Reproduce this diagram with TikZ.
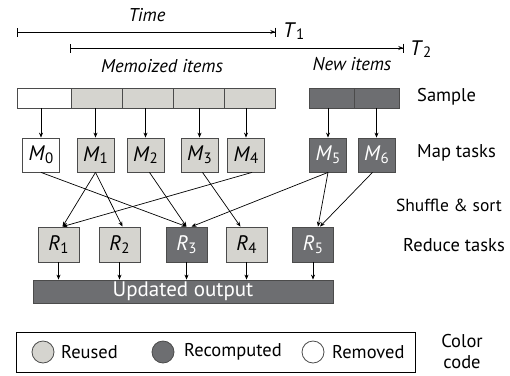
\documentclass[tikz,border=0pt]{standalone}
\usepackage{fontspec}
\setmainfont{PT Sans}
\usetikzlibrary{arrows.meta}
\definecolor{reused}{RGB}{213,212,207}
\definecolor{recomp}{RGB}{109,110,113}
\definecolor{edge}{RGB}{75,75,75}
% task label: italic letter with a lowered index
\newcommand{\tasklab}[2]{{\fontsize{21}{23}\selectfont\textit{#1}\raisebox{-0.25ex}{\fontsize{15}{15}\selectfont #2}}}
\begin{document}
\begin{tikzpicture}[x=1pt, y=-1pt, font=\fontsize{18.5}{21}\selectfont,
    box/.style={draw=edge, line width=0.8pt, inner sep=0pt},
    light/.style={box, fill=reused},
    dark/.style={box, fill=recomp, text=white},
    blank/.style={box, fill=white},
    cell/.style={minimum height=20pt},
    task/.style={minimum width=37pt, minimum height=34pt},
    red/.style={minimum width=41pt, minimum height=35pt},
    flow/.style={-{Stealth[length=5pt,width=4pt]}, line width=0.7pt, black},
    lbl/.style={inner sep=0pt},
    key/.style={circle, draw=edge, line width=0.8pt, minimum size=22pt, inner sep=0pt}]

    \useasboundingbox (0,0) rectangle (510,375);

    % Time axes at the top
    \node[lbl] (time) at (147,15) {\itshape Time};
    \coordinate (t1a) at (17,32);
    \coordinate (t1b) at (276,32);
    \coordinate (t2a) at (70,48);
    \coordinate (t2b) at (404,48);
    \draw[line width=0.7pt, {Bar[width=9pt]}-{Stealth[length=5pt,width=4pt]Bar[width=9pt]}] (t1a) -- (t1b);
    \draw[line width=0.7pt, {Bar[width=9pt]}-{Stealth[length=5pt,width=4pt]Bar[width=9pt]}] (t2a) -- (t2b);
    \node[lbl, anchor=west] (T1) at (283,31) {\tasklab{T}{1}};
    \node[lbl, anchor=west] (T2) at (410,49) {\tasklab{T}{2}};
    \node[lbl] (memo) at (162,66) {\itshape Memoized items};
    \node[lbl] (new) at (352,64) {\itshape New items};

    % Sample bar
    \node[blank, cell, minimum width=54pt] (s0) at (44,98) {};
    \node[light, cell, minimum width=51pt] (s1) at (96.5,98) {};
    \node[light, cell, minimum width=51pt] (s2) at (147.5,98) {};
    \node[light, cell, minimum width=51pt] (s3) at (198.5,98) {};
    \node[light, cell, minimum width=51pt] (s4) at (249.5,98) {};
    \node[dark, cell, minimum width=45pt] (s5) at (331.5,98) {};
    \node[dark, cell, minimum width=45pt] (s6) at (376.5,98) {};
    \node[lbl, anchor=west] (sample) at (417,97) {Sample};

    % Map tasks
    \node[blank, task] (M0) at (41,155) {\tasklab{M}{0}};
    \node[light, task] (M1) at (95.5,155) {\tasklab{M}{1}};
    \node[light, task] (M2) at (145.5,155) {\tasklab{M}{2}};
    \node[light, task] (M3) at (199.5,155) {\tasklab{M}{3}};
    \node[light, task] (M4) at (246,155) {\tasklab{M}{4}};
    \node[dark, task] (M5) at (328,155) {\tasklab{M}{5}};
    \node[dark, task] (M6) at (376.5,155) {\tasklab{M}{6}};
    \node[lbl, anchor=west] (maplbl) at (417,153) {Map tasks};

    % Sample to map tasks
    \draw[flow] (M0.north |- s0.south) -- (M0.north);
    \draw[flow] (M1.north |- s1.south) -- (M1.north);
    \draw[flow] (M2.north |- s2.south) -- (M2.north);
    \draw[flow] (M3.north |- s3.south) -- (M3.north);
    \draw[flow] (M4.north |- s4.south) -- (M4.north);
    \draw[flow] (M5.north |- s5.south) -- (M5.north);
    \draw[flow] (M6.north |- s6.south) -- (M6.north);

    % Reduce tasks
    \node[light, red] (R1) at (58.5,244.5) {\tasklab{R}{1}};
    \node[light, red] (R2) at (119.5,244.5) {\tasklab{R}{2}};
    \node[dark, red] (R3) at (186.5,244.5) {\tasklab{R}{3}};
    \node[light, red] (R4) at (246.5,244.5) {\tasklab{R}{4}};
    \node[dark, red] (R5) at (313,244.5) {\tasklab{R}{5}};
    \node[lbl, anchor=east, font=\fontsize{17.5}{20}\selectfont] (shuffle) at (502,205) {Shuffle \& sort};
    \node[lbl, anchor=east] (redlbl) at (505,245) {Reduce tasks};

    % Shuffle edges
    \draw[flow] (M0.south) -- (R3.north);
    \draw[flow] (M1.south) -- ([xshift=4pt]R1.north);
    \draw[flow] (M1.south) -- ([xshift=3pt]R2.north);
    \draw[flow] ([xshift=4pt]M2.south) -- (R3.north);
    \draw[flow] ([xshift=3pt]M3.south) -- ([xshift=-6pt]R4.north);
    \draw[flow] ([xshift=6pt]M4.south) -- ([xshift=4pt]R1.north);
    \draw[flow] (M5.south) -- ([xshift=5pt]R3.north);
    \draw[flow] (M5.south) -- ([xshift=5pt]R5.north);
    \draw[flow] ([xshift=-4pt]M6.south) -- ([xshift=7pt]R5.north);

    % Output
    \node[dark, minimum width=300pt, minimum height=23pt] (out) at (183,291.5) {\fontsize{21}{23}\selectfont Updated output};
    \draw[flow] (R1.south) -- (R1.south |- out.north);
    \draw[flow] (R2.south) -- (R2.south |- out.north);
    \draw[flow] (R3.south) -- (R3.south |- out.north);
    \draw[flow] (R4.south) -- (R4.south |- out.north);
    \draw[flow] (R5.south) -- (R5.south |- out.north);

    % Colour code
    \node[draw=black, line width=0.8pt, minimum width=399pt, minimum height=40pt] (legend) at (215.5,352) {};
    \node[key, fill=reused] (kReused) at (43,352) {};
    \node[lbl, anchor=west] (tReused) at (61,352) {Reused};
    \node[key, fill=recomp] (kRecomp) at (163,352) {};
    \node[lbl, anchor=west] (tRecomp) at (184,352) {Recomputed};
    \node[key, fill=white] (kRemoved) at (313,352) {};
    \node[lbl, anchor=west] (tRemoved) at (332,352) {Removed};
    \node[lbl, align=center] (ccode) at (462,352) {Color\\code};

\end{tikzpicture}
\end{document}
